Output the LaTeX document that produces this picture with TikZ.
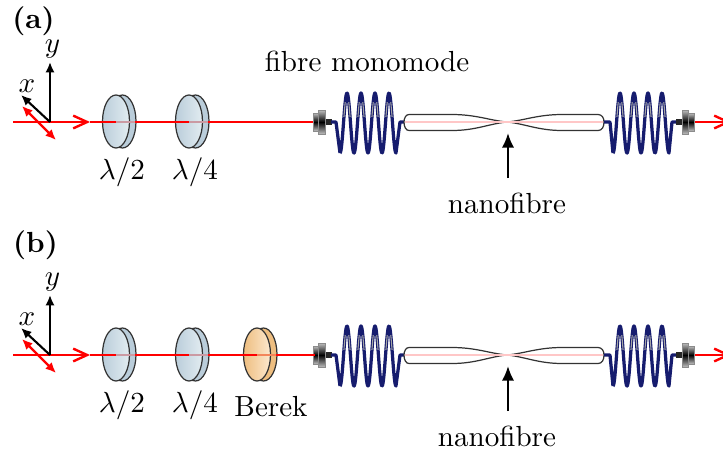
\documentclass[tikz,border=0pt]{standalone}
\usetikzlibrary{arrows.meta}

\definecolor{plateblue}{RGB}{186,205,218}
\definecolor{platelight}{RGB}{226,236,241}
\definecolor{plateorange}{RGB}{238,190,128}
\definecolor{orangelight}{RGB}{252,232,206}
\definecolor{fibrenavy}{RGB}{22,28,110}

\tikzset{
beam/.style={red,line width=.82pt},
beamfaint/.style={red!25!plateblue,line width=.82pt},
chevron/.style={beam,-{Straight Barb[length=4.8pt,width=4.4pt,line width=.82pt]}},
axisarrow/.style={black,line width=.72pt,-{Latex[length=3.6pt,width=3.2pt]}},
polar/.style={red,line width=.82pt,{Latex[length=3.6pt,width=3.2pt]}-{Latex[length=3.6pt,width=3.2pt]}},
coilline/.style={fibrenavy,line width=1.12pt,line join=round},
coilshine/.style={line width=.36pt},
tube/.style={draw=black!80,fill=white,line width=.42pt},
pinkcore/.style={red!22,line width=.8pt}
}

% one waveplate: centre x, centre y, left colour, right colour
\newcommand{\waveplate}[4]{
\fill[#4,draw=black!80,line width=.42pt] (#1+6.5,#2-.5) ellipse (13.5 and 26.5);
\shade[left color=#4,right color=#3,draw=black!80,line width=.42pt] (#1,#2-.5) ellipse (13.5 and 26.5);
}

% plug of the fibre: left x, centre y, half height, width
\newcommand{\plug}[4]{
\shade[top color=black!25,bottom color=black!25,middle color=black,draw=black!45,line width=.2pt] (#1,#2-#3) rectangle ++(#4,2*#3);
}

\newcommand{\coilpath}[2]{
plot[domain=0:4,samples=140] ({#1+14*\x},{#2+1+30*cos(360*\x)})
}

\begin{document}
\begin{tikzpicture}[x=.344pt,y=-.344pt]

\useasboundingbox (0,0) rectangle (723,450);

\node (atitle) at (33.5,21) {\textbf{(a)}};
\node (btitle) at (35.5,245) {\textbf{(b)}};
\node (mono) at (367,61) {fibre monomode};

\foreach \pn/\yc/\nx in {a/122/507,b/355/497}{

\coordinate (\pn-start) at (13,\yc);
\coordinate (\pn-origin) at (50,\yc);
\coordinate (\pn-chev) at (90,\yc);
\coordinate (\pn-end) at (731,\yc);

% waveplates
\waveplate{116}{\yc}{platelight}{plateblue}
\waveplate{189}{\yc}{platelight}{plateblue}

% beam
\draw[chevron] (\pn-start) -- (\pn-chev);
\draw[beam] (\pn-chev) -- (116,\yc);
\draw[beamfaint] (116,\yc) -- (135,\yc);
\draw[beam] (135,\yc) -- (189,\yc);
\draw[beamfaint] (189,\yc) -- (208,\yc);
\draw[beam] (208,\yc) -- (315,\yc);
\draw[chevron] (692,\yc) -- (\pn-end);

% axes
\draw[axisarrow] (\pn-origin) -- (50,\yc-60) node[pos=1,inner sep=0pt,yshift=4.6pt,xshift=.9pt] (\pn-y) {$y$};
\draw[axisarrow] (\pn-origin) -- (21,\yc-27) node[pos=1,inner sep=0pt,yshift=3pt,xshift=2pt] (\pn-x) {$x$};
\draw[polar] (22,\yc-16) -- (56,\yc+18);

% left plug and coil
\fill[black!85] (325,\yc-3) rectangle (332,\yc+3);
\plug{313}{\yc}{9}{5.5}
\plug{318}{\yc}{12}{7}
\draw[coilline] (331,\yc) -- (336,\yc) -- (340,\yc+31) \coilpath{340}{\yc} -- (400,\yc) -- (405,\yc);
\begin{scope}
\clip (330,\yc-20) rectangle (400,\yc-6);
\draw[coilshine,draw=black!35] \coilpath{340}{\yc};
\end{scope}

% nanofibre
\draw[tube] (409,\yc-7.5) -- (452,\yc-7.5) .. controls (476,\yc-7.5) and (490,\yc-1.5) .. (507,\yc)
.. controls (524,\yc+1.5) and (538,\yc+8.5) .. (562,\yc+8.5) -- (598,\yc+8.5)
.. controls (602,\yc+8.5) and (604,\yc+5) .. (604,\yc) .. controls (604,\yc-4) and (602,\yc-7.5) .. (598,\yc-7.5)
-- (562,\yc-7.5) .. controls (538,\yc-7.5) and (524,\yc-1.5) .. (507,\yc)
.. controls (490,\yc+1.5) and (476,\yc+8.5) .. (452,\yc+8.5) -- (409,\yc+8.5)
.. controls (406,\yc+8.5) and (404,\yc+5) .. (404,\yc) .. controls (404,\yc-4) and (406,\yc-7.5) .. (409,\yc-7.5) -- cycle;
\draw[pinkcore] (405,\yc) -- (603,\yc);

% right coil and plug
\draw[coilline] (604,\yc) -- (610,\yc) -- (613,\yc+31) \coilpath{613}{\yc} -- (672,\yc) -- (680,\yc);
\begin{scope}
\clip (605,\yc-20) rectangle (675,\yc-6);
\draw[coilshine,draw=black!35] \coilpath{613}{\yc};
\end{scope}
\fill[black!85] (676,\yc-3) rectangle (683,\yc+3);
\plug{682}{\yc}{12}{6.5}
\plug{688.5}{\yc}{9}{5.5}

% labels
\node (\pn-half) at (122,\yc+50) {$\lambda/2$};
\node (\pn-quarter) at (195,\yc+50) {$\lambda/4$};
\node (\pn-nano) at (\nx,\yc+81) {nanofibre};
\coordinate (\pn-waist) at (508,\yc+11);
\draw[line width=.72pt,-{Latex[length=5pt,width=4.2pt]}] (508,\yc+56) -- (\pn-waist);
}

% Berek
\waveplate{257}{355}{orangelight}{plateorange}
\draw[beam] (208,355) -- (257,355);
\draw[red!30!plateorange,line width=.82pt] (257,355) -- (276,355);
\draw[beam] (276,355) -- (315,355);
\node (berek) at (271,407) {Berek};

\end{tikzpicture}
\end{document}
